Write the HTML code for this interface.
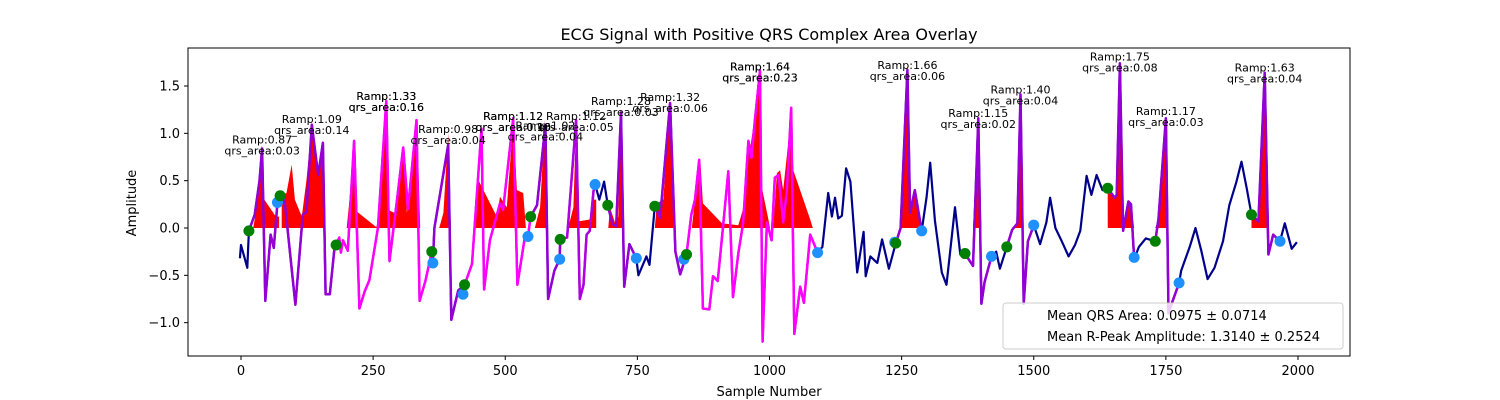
<!DOCTYPE html>
<html><head><meta charset="utf-8">
<style>
html,body{margin:0;padding:0;background:#fff;}
svg{display:block;font-family:"DejaVu Sans","Liberation Sans",sans-serif;}
</style></head>
<body>
<svg id="chart" width="1500" height="400" viewBox="0 0 1500 400">
<rect x="0" y="0" width="1500" height="400" fill="#fff"/>
<text x="769" y="40" font-size="16" text-anchor="middle">ECG Signal with Positive QRS Complex Area Overlay</text>
<g id="plot"></g>
<rect x="188" y="48" width="1162" height="308" fill="none" stroke="#000" stroke-width="1"/>
<g id="xticks"></g>
<g id="yticks"></g>
<text x="769" y="396" font-size="13" text-anchor="middle">Sample Number</text>
<text x="136" y="203" font-size="13" text-anchor="middle" transform="rotate(-90 136 203)">Amplitude</text>
<g>
<rect x="1003" y="303" width="340" height="46" rx="3" fill="#fff" fill-opacity="0.8" stroke="#ccc"/>
<text x="1047" y="320" font-size="13">Mean QRS Area: 0.0975 ± 0.0714</text>
<text x="1047" y="341" font-size="13">Mean R-Peak Amplitude: 1.3140 ± 0.2524</text>
</g>
</svg>
<script>
const sigX = [-2,0,12,15,26,35,40,46,56,62,69,74,79,82,103,117,124,134,146,155,160,168,177,180,186,189,193,202,214,224,234,243,259,275,281,293,307,316,332,338,349,361,363,366,392,398,411,423,437,455,460,471,490,496,515,523,537,543,548,560,576,581,593,603,604,617,634,641,648,654,660,667,670,678,687,694,703,710,719,725,735,748,752,767,773,783,793,812,822,831,843,852,859,867,874,886,893,902,912,922,931,941,950,960,966,972,982,987,995,1004,1010,1017,1026,1033,1041,1047,1058,1065,1077,1091,1100,1111,1118,1124,1130,1137,1145,1153,1166,1178,1182,1191,1204,1213,1226,1239,1248,1261,1266,1275,1288,1297,1304,1313,1326,1335,1351,1361,1370,1385,1395,1401,1407,1420,1429,1436,1449,1459,1469,1475,1481,1489,1500,1512,1524,1531,1541,1553,1566,1578,1588,1600,1609,1619,1630,1640,1653,1657,1663,1669,1679,1684,1690,1699,1712,1730,1736,1750,1755,1761,1775,1779,1795,1806,1817,1829,1842,1858,1870,1883,1893,1903,1912,1925,1937,1944,1953,1966,1975,1988,1998];
const sigY = [-0.32,-0.18,-0.42,-0.03,0.14,0.5,0.84,-0.77,-0.07,-0.21,0.27,0.36,0.37,0.32,-0.81,0.14,0.17,1.09,0.56,0.9,-0.7,-0.7,-0.21,-0.18,-0.1,-0.26,-0.13,-0.24,0.92,-0.85,-0.67,-0.55,0.0,1.34,-0.35,0.2,0.85,0.2,1.14,-0.77,-0.56,-0.25,-0.37,0.0,0.88,-0.97,-0.66,-0.6,-0.38,1.05,-0.65,-0.13,0.26,0.19,1.16,-0.6,-0.1,-0.09,0.12,0.24,1.09,-0.75,-0.45,-0.33,-0.12,-0.1,1.14,-0.75,-0.6,-0.07,-0.03,0.39,0.46,0.3,0.49,0.24,0.04,0.02,1.22,-0.62,-0.17,-0.32,-0.5,-0.3,-0.39,0.23,0.11,1.32,-0.25,-0.49,-0.28,0.14,0.3,0.72,-0.85,-0.86,-0.51,-0.56,0.01,0.6,-0.73,-0.27,0.05,0.92,0.74,1.12,1.66,-1.2,0.06,-0.13,0.53,0.56,0.06,0.4,1.27,-1.12,-0.62,-0.79,-0.07,-0.26,-0.2,0.37,0.12,0.32,0.1,0.13,0.63,0.49,-0.47,-0.04,-0.51,-0.3,-0.37,-0.12,-0.43,-0.16,0.0,1.67,0.16,0.4,-0.03,0.32,0.69,0.08,-0.47,-0.6,0.22,-0.28,-0.27,-0.4,1.16,-0.8,-0.57,-0.3,-0.25,-0.43,-0.2,-0.02,0.05,1.41,-0.8,-0.14,0.03,-0.17,0.06,0.32,0.0,-0.14,-0.3,-0.18,-0.03,0.55,0.35,0.56,0.4,0.42,0.32,0.35,1.74,-0.03,0.28,0.25,-0.33,-0.2,-0.11,-0.14,0.1,1.16,-0.9,-0.8,-0.58,-0.45,-0.2,0.0,-0.24,-0.54,-0.42,-0.14,0.24,0.48,0.7,0.42,0.14,0.07,1.64,-0.28,-0.07,-0.14,0.05,-0.22,-0.15];
const segStart = [15,180,361,423,548,604,694,783,843,1239,1370,1449,1640,1730,1912];
const segEnd   = [180,361,423,548,604,670,748,843,1091,1288,1420,1500,1690,1775,1966];
const segColor = ["#9400d3","#ff00ff","#9400d3","#ff00ff","#9400d3","#b000e0","#9400d3","#9b00d8","#ff00ff","#9400d3","#9400d3","#9400d3","#9400d3","#9400d3","#9400d3"];
const fillS = [
 [23,30,39,44,66,72,72],
 [77,77,86,96,102,115,124,134,146,156,159],
 [200,216,220,256,260,274,279,290,307,314,333,339],
 [375,383,392,397],
 [443,449,455,484,490,503,515,522,534,539],
 [556,566,575,580],
 [619,629,634,638,660,664,672,672],
 [695,698,708,714,718,722],
 [783,787,799,812,818],
 [853,859,869,874,910,941,951,960,963,971,979,985,998,1001],
 [1007,1014,1020,1026,1042,1045,1077,1082]
];
const fillA = [
 [0,0.22,0.88,0.30,0.12,0.12,0],
 [0,0.35,0.37,0.67,0.30,0.12,0.51,1.10,0.54,0.89,0],
 [0,0.91,0.17,0.01,0.09,1.36,0.19,0.16,0.84,0.16,1.14,0],
 [0,0.16,1.0,0],
 [0,0.51,0.44,0.12,0.33,0.22,1.12,0.40,0.37,0],
 [0,0.22,1.14,0],
 [0,0.22,1.12,0.07,0.09,0.30,0.30,0],
 [0,0.22,0.05,0.12,1.28,0],
 [0,0.26,0.30,1.32,0],
 [0,0.30,0.72,0.26,0.05,0.03,0.22,0.93,0.82,1.14,1.63,0.44,0.09,0],
 [0,0.58,0.61,0.40,1.25,0.61,0.09,0]
];
const autoFillFrom = 9;
const onsetX = [15,74,180,361,423,548,604,694,783,843,1239,1370,1449,1640,1730,1912];
const onsetY = [-0.03,0.34,-0.18,-0.25,-0.6,0.12,-0.12,0.24,0.23,-0.28,-0.16,-0.27,-0.2,0.42,-0.14,0.14];
const offsetX = [69,363,420,543,603,670,748,838,1091,1237,1288,1420,1500,1690,1775,1966];
const offsetY = [0.27,-0.37,-0.7,-0.09,-0.33,0.46,-0.32,-0.33,-0.26,-0.15,-0.03,-0.3,0.03,-0.31,-0.58,-0.14];
const peakX = [40,134,275,275,392,515,515,576,634,719,812,982,982,1261,1395,1475,1663,1750,1937];
const rampVals = ["0.87","1.09","1.33","1.33","0.98","1.12","1.12","1.02","1.12","1.28","1.32","1.64","1.64","1.66","1.15","1.40","1.75","1.17","1.63"];
const areaVals = ["0.03","0.14","0.16","0.16","0.04","0.16","0.10","0.04","0.05","0.03","0.06","0.23","0.23","0.06","0.02","0.04","0.08","0.03","0.04"];
const xTicks = [0,250,500,750,1000,1250,1500,1750,2000];
const yTicks = [-1.0,-0.5,0.0,0.5,1.0,1.5];

const NS = "http://www.w3.org/2000/svg";
function xs(s){ return 241 + s*0.5285; }
function ys(a){ return 228 - a*94.67; }
function mk(tag, attrs, parent){ const e=document.createElementNS(NS,tag); for(const k in attrs) e.setAttribute(k,attrs[k]); parent.appendChild(e); return e; }
function valAt(s){
  for(let i=0;i<sigX.length-1;i++){ if(s>=sigX[i]&&s<=sigX[i+1]){ const t=(s-sigX[i])/(sigX[i+1]-sigX[i]||1); return sigY[i]+t*(sigY[i+1]-sigY[i]); } }
  return 0;
}
function segPts(a,b){
  const pts=[[a,valAt(a)]];
  for(let i=0;i<sigX.length;i++) if(sigX[i]>a&&sigX[i]<b) pts.push([sigX[i],sigY[i]]);
  pts.push([b,valAt(b)]);
  return pts;
}
const plot = document.getElementById('plot');
// red fills (explicit polygons)
for(let k=0;k<fillS.length;k++){
  let d="";
  fillS[k].forEach((s,i)=>{ d+=(i?" L":"M")+xs(s).toFixed(1)+","+ys(fillA[k][i]).toFixed(1); });
  d+=" Z";
  const f=mk('path',{d:d,fill:"#ff0000",stroke:"none"},plot);
  
  
}
// red fills for later segments (from signal)
for(let k=autoFillFrom;k<segStart.length;k++){
  const pts=segPts(segStart[k],segEnd[k]);
  let d="M"+xs(pts[0][0])+","+ys(0);
  pts.forEach(p=>{ d+=" L"+xs(p[0]).toFixed(1)+","+ys(Math.max(0,p[1])).toFixed(1); });
  d+=" L"+xs(pts[pts.length-1][0])+","+ys(0)+" Z";
  const f=mk('path',{d:d,fill:"#ff0000",stroke:"none"},plot);
  
  
}
// base signal
let d="";
for(let i=0;i<sigX.length;i++) d+=(i?" L":"M")+xs(sigX[i]).toFixed(1)+","+ys(sigY[i]).toFixed(1);
const line=mk('path',{d:d,fill:"none",stroke:"#00008b","stroke-width":2.2,"stroke-linejoin":"round"},plot);


// qrs segments
for(let k=0;k<segStart.length;k++){
  const pts=segPts(segStart[k],segEnd[k]);
  let dd=""; pts.forEach((p,i)=>{ dd+=(i?" L":"M")+xs(p[0]).toFixed(1)+","+ys(p[1]).toFixed(1); });
  const s=mk('path',{d:dd,fill:"none",stroke:segColor[k],"stroke-width":2.5,"stroke-linejoin":"round"},plot);
  
  
}
// markers
for(let i=0;i<offsetX.length;i++){
  const c=mk('circle',{cx:xs(offsetX[i]),cy:ys(offsetY[i]),r:5.5,fill:"#1e90ff"},plot);
  
  
}
for(let i=0;i<onsetX.length;i++){
  const c=mk('circle',{cx:xs(onsetX[i]),cy:ys(onsetY[i]),r:5.5,fill:"#008000"},plot);
  
  
}
// annotations
for(let i=0;i<peakX.length;i++){
  const px=xs(peakX[i]), py=ys(parseFloat(rampVals[i]));
  const t1=mk('text',{x:px,y:py-2,"font-size":11,"text-anchor":"middle",fill:"#000"},plot);
  t1.textContent="Ramp:"+rampVals[i];
  
  
  const t2=mk('text',{x:px,y:py+9,"font-size":11,"text-anchor":"middle",fill:"#000"},plot);
  t2.textContent="qrs_area:"+areaVals[i];
  
  
}
// axes ticks
const xg=document.getElementById('xticks');
xTicks.forEach(v=>{
  const l=mk('line',{x1:xs(v),x2:xs(v),y1:356,y2:360,stroke:"#000"},xg);
  
  
  const t=mk('text',{x:xs(v),y:375,"font-size":13,"text-anchor":"middle"},xg);
  t.textContent=v;
  
  
});
const yg=document.getElementById('yticks');
yTicks.forEach(v=>{
  const l=mk('line',{x1:184,x2:188,y1:ys(v),y2:ys(v),stroke:"#000"},yg);
  
  
  const t=mk('text',{x:180,y:ys(v)+4.5,"font-size":13,"text-anchor":"end"},yg);
  t.textContent=(v<0?"\u2212":"")+Math.abs(v).toFixed(1);
  
  
});
</script>
</body></html>
